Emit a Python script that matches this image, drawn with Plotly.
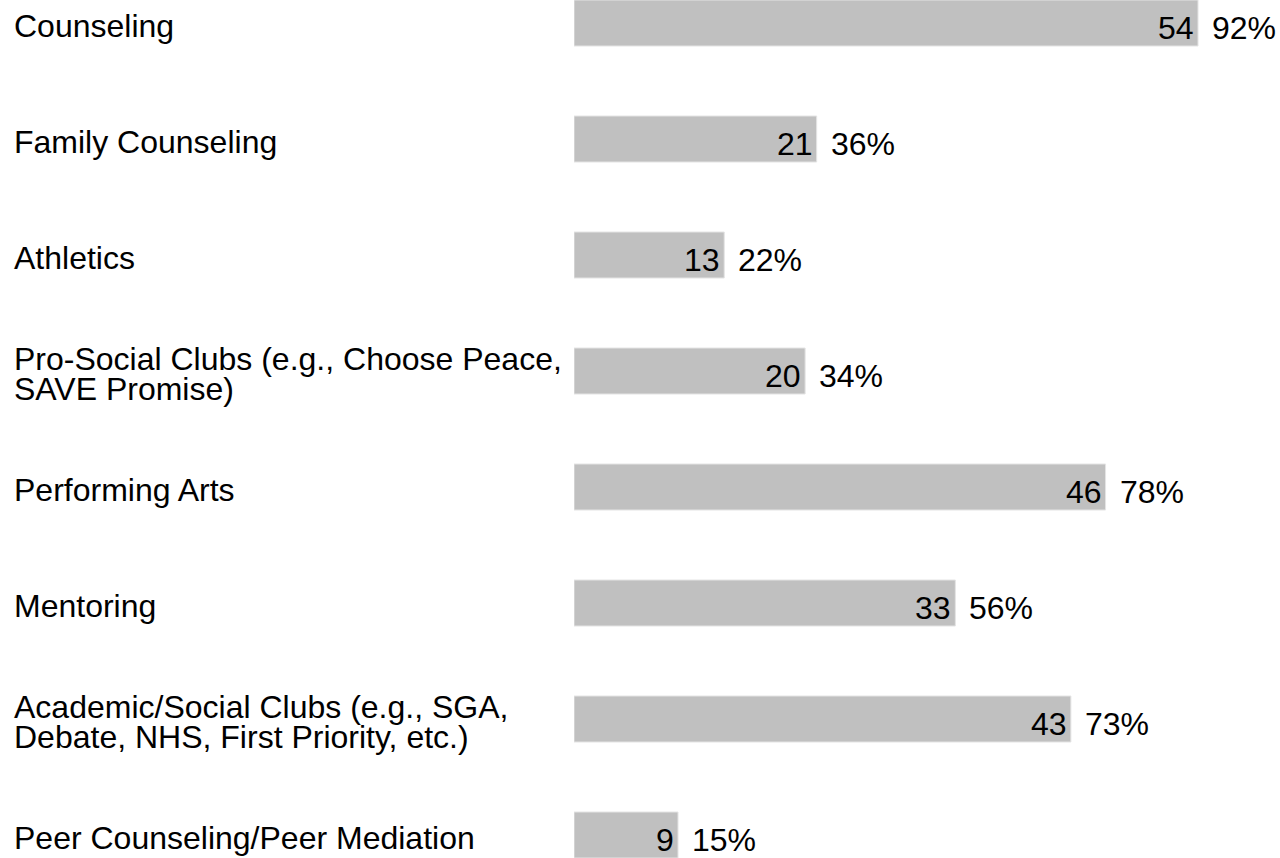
import plotly.graph_objects as go

categories = [
    "Counseling",
    "Family Counseling",
    "Athletics",
    "Pro-Social Clubs (e.g., Choose Peace,<br>SAVE Promise)",
    "Performing Arts",
    "Mentoring",
    "Academic/Social Clubs (e.g., SGA,<br>Debate, NHS, First Priority, etc.)",
    "Peer Counseling/Peer Mediation",
]
counts = [54, 21, 13, 20, 46, 33, 43, 9]
percents = ["92%", "36%", "22%", "34%", "78%", "56%", "73%", "15%"]

FONT = "Liberation Sans, Arial, sans-serif"
FS = 32
W, H = 1280, 858
LEFT = 574
PX_PER_UNIT = 624 / 54
BAR_PX = 46
BAND_PX = 116

idx = list(range(len(categories)))
bw = BAR_PX / BAND_PX

fig = go.Figure()
fig.add_trace(go.Bar(
    x=counts,
    y=idx,
    orientation="h",
    marker=dict(color="#c0c0c0", line=dict(color="#e4e4e4", width=1)),
    hoverinfo="skip",
    cliponaxis=False,
))

font = dict(family=FONT, size=FS, color="black")
annotations = []
for i, (c, p) in enumerate(zip(counts, percents)):
    annotations.append(dict(
        x=c, y=i, xref="x", yref="y", text=str(c), showarrow=False,
        xanchor="right", yanchor="middle", xshift=-2, yshift=-5, font=font,
    ))
    annotations.append(dict(
        x=c, y=i, xref="x", yref="y", text=p, showarrow=False,
        xanchor="left", yanchor="middle", xshift=12, yshift=-5, font=font,
    ))

label_x = (12 - LEFT) / (W - LEFT)
for i, cat in enumerate(categories):
    lines = cat.split("<br>")
    n = len(lines)
    for j, line in enumerate(lines):
        annotations.append(dict(
            x=label_x, y=i, xref="paper", yref="y", text=line, showarrow=False,
            xanchor="left", yanchor="middle",
            yshift=-3 - (j - (n - 1) / 2) * 30,
            font=font,
        ))

fig.update_layout(
    width=W, height=H,
    margin=dict(l=LEFT, r=0, t=0, b=0, pad=0),
    plot_bgcolor="white", paper_bgcolor="white",
    bargap=1 - bw,
    showlegend=False,
    annotations=annotations,
    xaxis=dict(range=[0, (W - LEFT) / PX_PER_UNIT], visible=False, fixedrange=True),
    yaxis=dict(range=[len(categories) - 1 + bw / 2, -bw / 2], visible=False, fixedrange=True),
)

fig.write_html("out.html", config={"displayModeBar": False},
               post_script="document.body.style.margin='0';")
